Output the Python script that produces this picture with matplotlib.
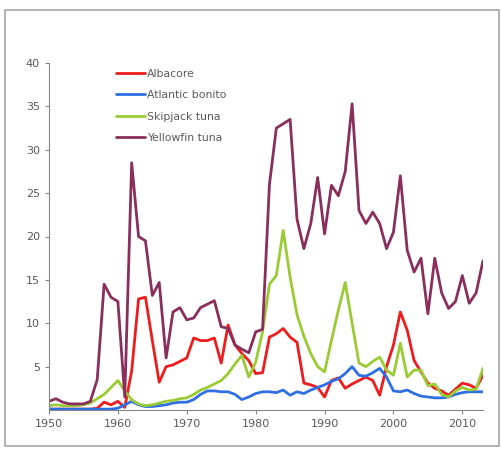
import matplotlib
matplotlib.use("Agg")
import matplotlib.pyplot as plt
from matplotlib.patches import Rectangle

years = list(range(1950, 2014))

albacore = [0.1, 0.1, 0.1, 0.1, 0.1, 0.1, 0.1, 0.2, 0.9, 0.6,
            1.0, 0.3, 4.5, 12.8, 13.0, 8.0, 3.2, 5.0, 5.2, 5.6,
            6.0, 8.3, 8.0, 8.0, 8.3, 5.4, 9.8, 7.5, 6.5, 5.7,
            4.2, 4.3, 8.4, 8.8, 9.4, 8.4, 7.8, 3.1, 2.9, 2.6,
            1.5, 3.4, 3.7, 2.5, 3.0, 3.4, 3.8, 3.4, 1.7, 5.0,
            7.5, 11.3, 9.2, 5.7, 4.4, 3.1, 2.5, 2.2, 1.7, 2.4,
            3.1, 2.9, 2.5, 4.0]

bonito = [0.1, 0.1, 0.1, 0.1, 0.1, 0.1, 0.1, 0.1, 0.1, 0.1,
          0.2, 0.6, 1.0, 0.6, 0.4, 0.4, 0.5, 0.6, 0.8, 0.9,
          0.9, 1.2, 1.8, 2.2, 2.2, 2.1, 2.1, 1.8, 1.2, 1.5,
          1.9, 2.1, 2.1, 2.0, 2.3, 1.7, 2.1, 1.9, 2.3, 2.6,
          2.9, 3.3, 3.6, 4.2, 5.0, 4.0, 3.9, 4.3, 4.8, 3.8,
          2.2, 2.1, 2.3, 1.9, 1.6, 1.5, 1.4, 1.4, 1.5, 1.8,
          2.0, 2.1, 2.1, 2.1]

skipjack = [0.5, 0.6, 0.5, 0.5, 0.5, 0.6, 0.8, 1.3, 1.8, 2.6,
            3.4, 2.2, 1.2, 0.7, 0.5, 0.6, 0.8, 1.0, 1.1, 1.3,
            1.4, 1.8, 2.3, 2.6, 3.0, 3.4, 4.2, 5.3, 6.3, 3.8,
            5.5, 9.0, 14.5, 15.5, 20.7, 15.3, 11.0, 8.5, 6.5, 5.0,
            4.4, 8.0, 11.5, 14.7, 10.0, 5.4, 5.0, 5.6, 6.1, 4.6,
            4.0, 7.7, 3.8, 4.6, 4.6, 2.8, 3.0, 1.8, 1.5, 2.2,
            2.6, 2.3, 2.4, 4.8]

yellowfin = [1.0, 1.3, 0.9, 0.7, 0.7, 0.7, 1.0, 3.5, 14.5, 13.0,
             12.5, 1.5, 28.5, 20.0, 19.5, 13.2, 14.7, 6.0, 11.3, 11.8,
             10.4, 10.6, 11.8, 12.2, 12.6, 9.6, 9.4, 7.5, 7.0, 6.6,
             9.0, 9.3, 26.0, 32.5, 33.0, 33.5, 22.0, 18.6, 21.5, 26.8,
             20.3, 25.9, 24.7, 27.5, 35.3, 23.0, 21.5, 22.8, 21.5, 18.6,
             20.5, 27.0, 18.4, 15.9, 17.5, 11.1, 17.5, 13.5, 11.7, 12.5,
             15.5, 12.3, 13.5, 17.2]

series = [("Albacore", albacore, "#ee1c1c"),
          ("Atlantic bonito", bonito, "#2f6fe4"),
          ("Skipjack tuna", skipjack, "#9acb34"),
          ("Yellowfin tuna", yellowfin, "#8a2f5c")]

fig = plt.figure(figsize=(5.01, 4.49), dpi=100)
ax = fig.add_axes([49 / 501, 1 - 410 / 449, 434 / 501, 347 / 449])

for name, vals, col in series:
    ax.plot(years, vals, color=col, lw=2.0, label=name,
            solid_joinstyle="round", solid_capstyle="round")

ax.set_xlim(1950, 2013)
ax.set_ylim(0, 40)
ax.set_xticks(range(1950, 2011, 10))
ax.set_yticks(range(5, 41, 5))

for s in ["top", "right"]:
    ax.spines[s].set_visible(False)
for s in ["left", "bottom"]:
    ax.spines[s].set_color("#868686")
    ax.spines[s].set_linewidth(0.8)
ax.tick_params(colors="#868686", labelcolor="#595959", labelsize=8,
               length=3, width=0.8)

leg = ax.legend(loc="upper left", bbox_to_anchor=(106 / 501, 1 - 59 / 449),
                bbox_transform=fig.transFigure, frameon=False, fontsize=7.8,
                handlelength=2.7, handletextpad=0.2, labelspacing=1.05)
for t in leg.get_texts():
    t.set_color("#595959")

# grey frame around the whole chart
fig.add_artist(Rectangle((5 / 501, 3 / 449), 494 / 501, 436 / 449,
                         transform=fig.transFigure, fill=False,
                         edgecolor="#a6a6a6", lw=1.2))

fig.savefig("out.png", dpi=100)
